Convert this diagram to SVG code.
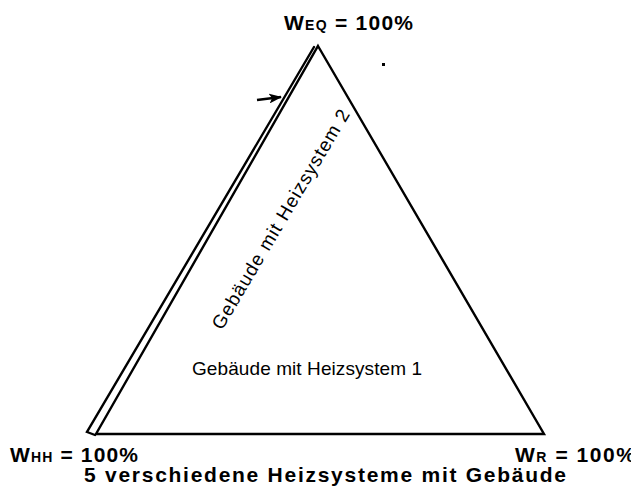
<svg xmlns="http://www.w3.org/2000/svg" width="631" height="490" viewBox="0 0 631 490">
  <style>
    .edge { fill: none; stroke: #000; stroke-width: 2.4; stroke-linejoin: miter; stroke-linecap: round; }
    .lbl { font-family: "Liberation Sans", Arial, sans-serif; fill: #000; }
    .corner { font-weight: bold; font-size: 21px; }
    .sub { font-size: 14px; }
    .zone { font-size: 19px; }
  </style>
  <defs>
    <marker id="head" markerWidth="13" markerHeight="10" refX="12" refY="5" orient="auto" markerUnits="userSpaceOnUse">
      <path d="M0,0 L13,5 L0,10 L3,5 Z" fill="#000"/>
    </marker>
  </defs>

  <rect width="631" height="490" fill="#fff"/>

  <g id="connectors">
    <!-- main triangle -->
    <path class="edge" d="M318,46 L544,434 L96,434 Z"/>
    <!-- second system, running alongside the left edge -->
    <path class="edge" d="M314,47 L87,432 L95,435"/>
    <!-- pointer onto the second system -->
    <line x1="257" y1="100" x2="281" y2="97" stroke="#000" stroke-width="2.6" marker-end="url(#head)"/>
    <rect x="382" y="63" width="3" height="3" fill="#000"/>
  </g>

  <g id="node-eq">
    <text class="lbl corner" x="284" y="30" textLength="129" lengthAdjust="spacing">W<tspan class="sub">EQ</tspan> = 100%</text>
  </g>
  <g id="node-hh">
    <text class="lbl corner" x="10" y="462" textLength="128" lengthAdjust="spacing">W<tspan class="sub">HH</tspan> = 100%</text>
  </g>
  <g id="node-r">
    <text class="lbl corner" x="515" y="462" textLength="120" lengthAdjust="spacing">W<tspan class="sub">R</tspan> = 100%</text>
  </g>
  <g id="node-system1">
    <text class="lbl zone" x="192" y="375" textLength="230" lengthAdjust="spacing">Gebäude mit Heizsystem 1</text>
  </g>
  <g id="node-system2">
    <text class="lbl zone" transform="translate(222,331) rotate(-59.4)" x="0" y="0" textLength="252" lengthAdjust="spacing">Gebäude mit Heizsystem 2</text>
  </g>
  <g id="caption">
    <text class="lbl corner" x="84" y="482" textLength="482" lengthAdjust="spacing">5 verschiedene Heizsysteme mit Gebäude</text>
  </g>
</svg>
